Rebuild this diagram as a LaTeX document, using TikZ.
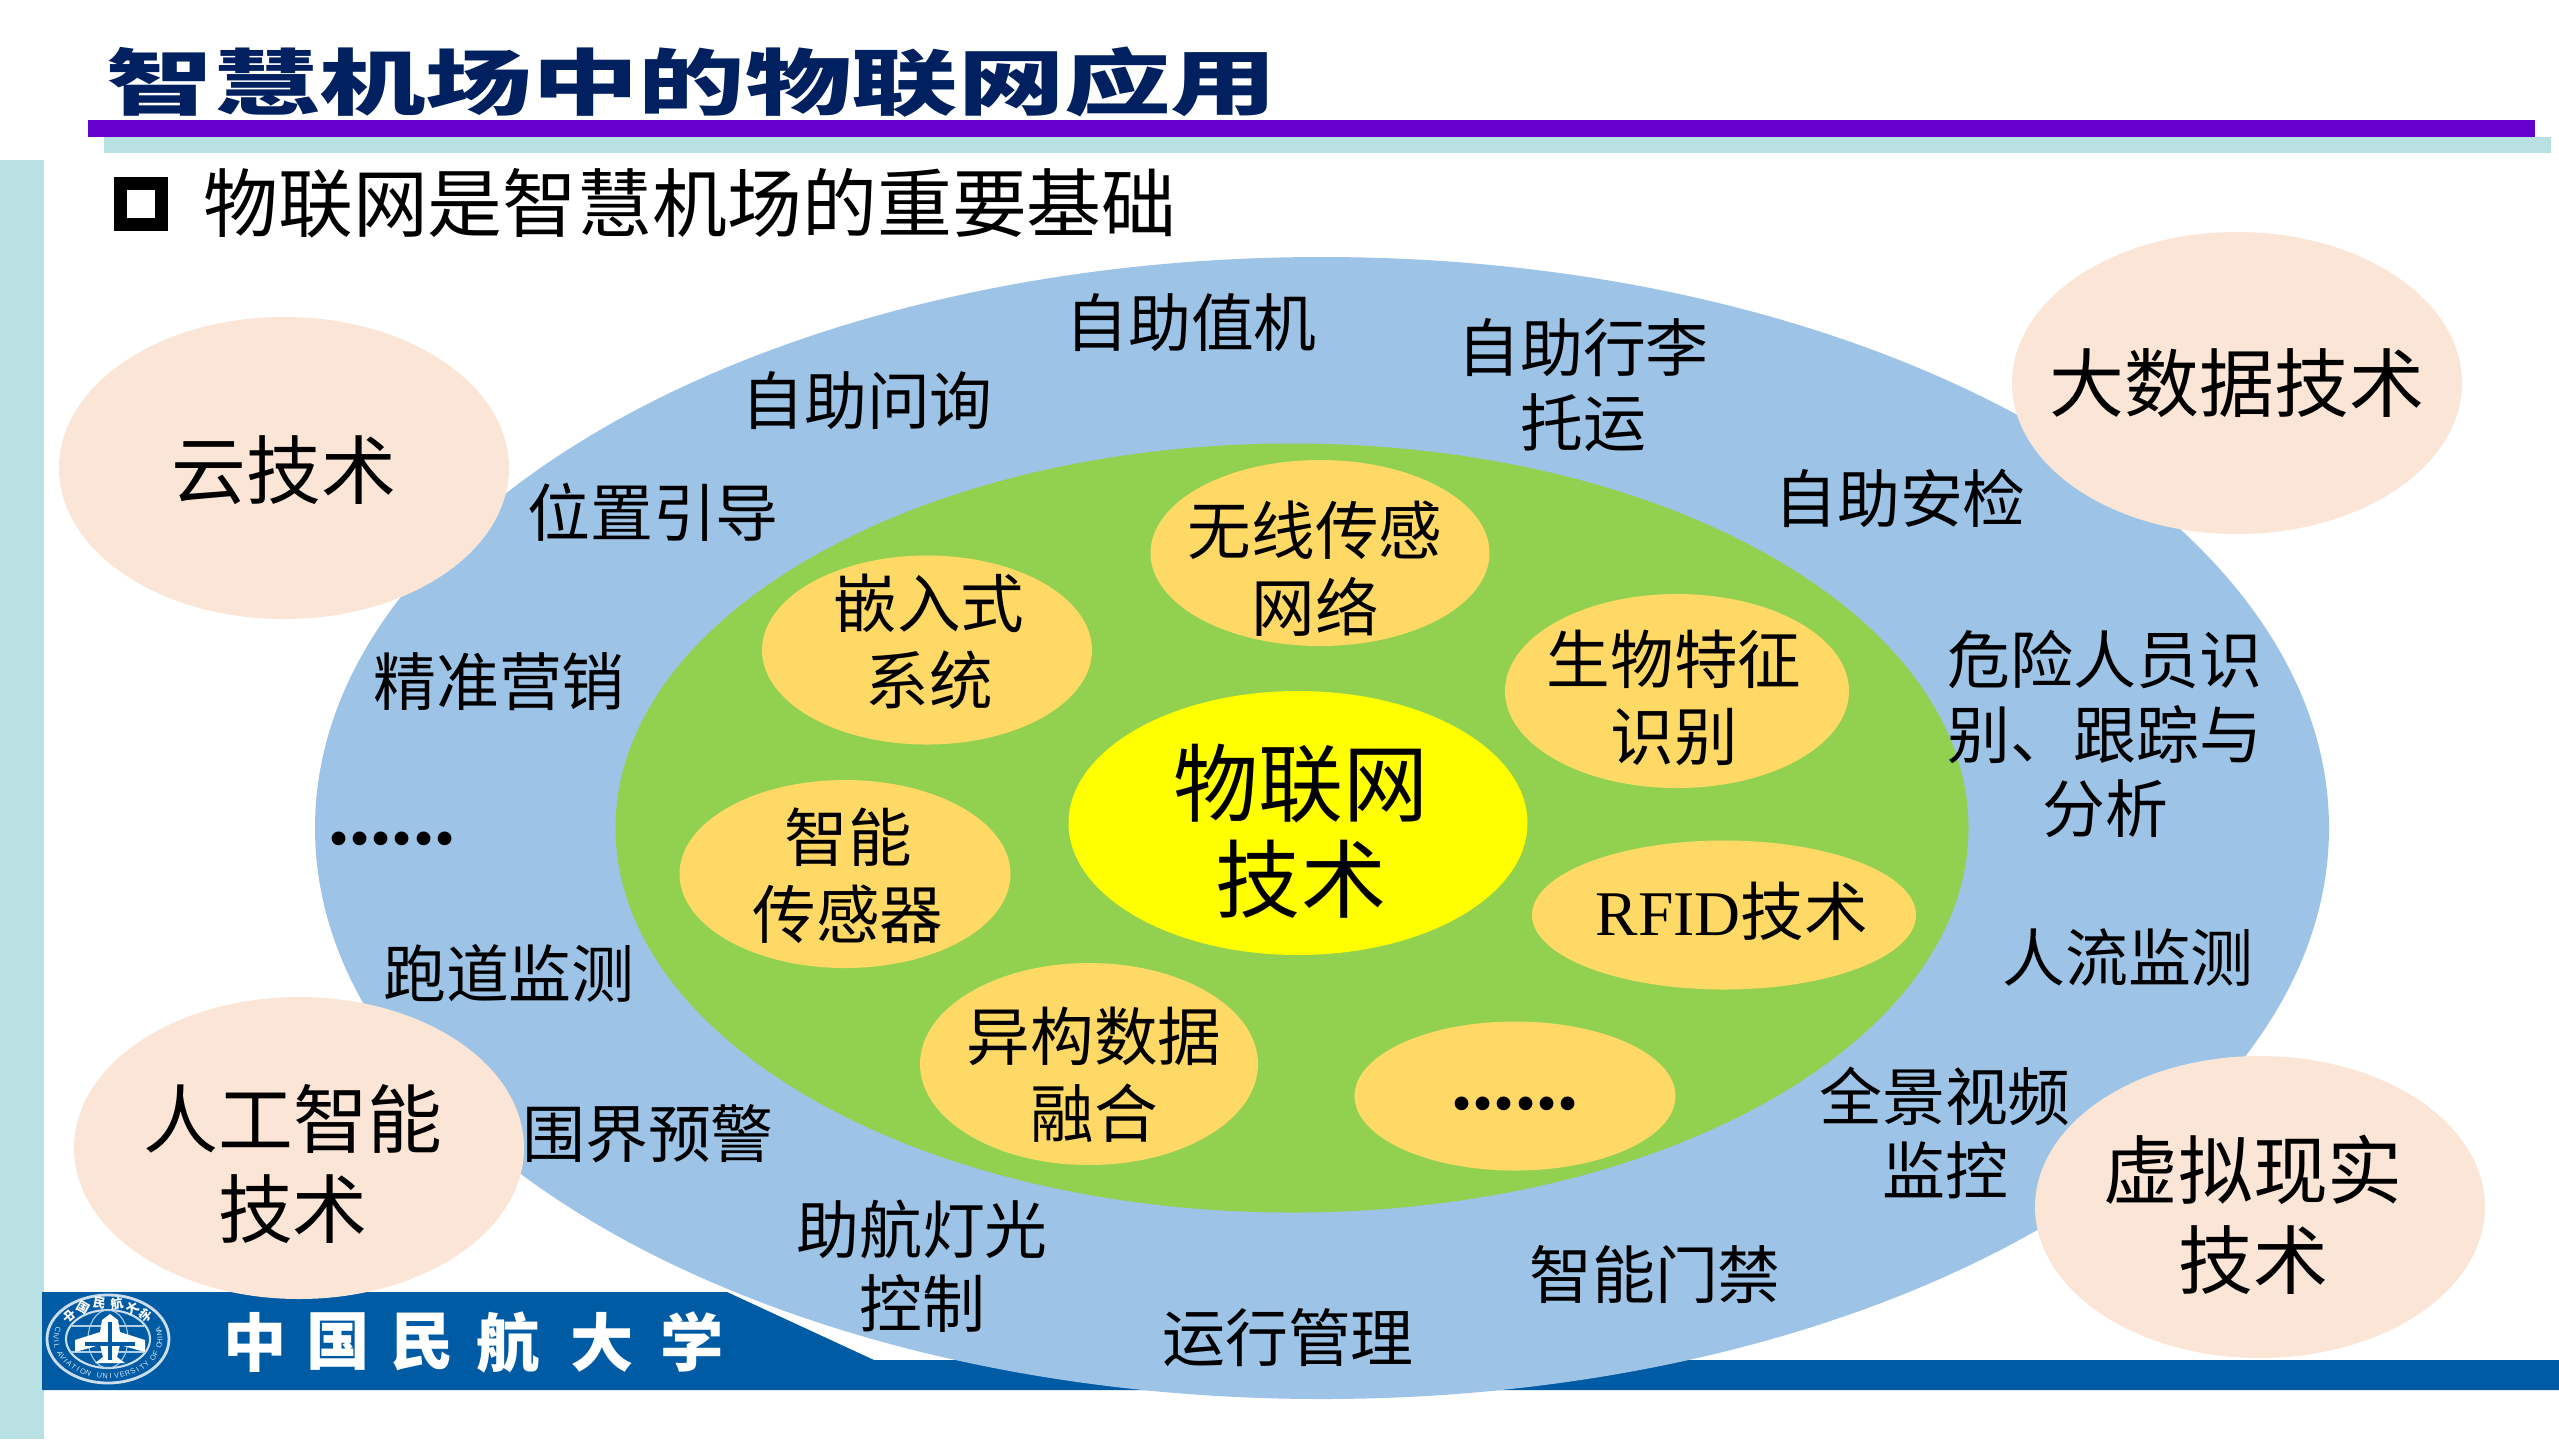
\documentclass[tikz,border=0pt]{standalone}
\usepackage{fontspec}
\setmainfont{Noto Sans CJK SC}
\newfontfamily\latinfont{Liberation Serif}
\newfontfamily\sansfont{Liberation Sans}
\usetikzlibrary{shapes.geometric}
\definecolor{bluefill}{HTML}{9DC3E6}
\definecolor{greenfill}{HTML}{92D050}
\definecolor{orangefill}{HTML}{FFD966}
\definecolor{peachfill}{HTML}{FBE5D6}
\definecolor{corefill}{HTML}{FFFF00}
\definecolor{barviolet}{HTML}{6600CC}
\definecolor{barteal}{HTML}{B9E0E3}
\definecolor{titlenavy}{HTML}{002060}
\definecolor{bannerblue}{HTML}{005BA5}
\tikzset{
  oval/.style n args={3}{ellipse,fill=#1,minimum width=#2cm,minimum height=#3cm,inner sep=0pt},
  smalloval/.style n args={2}{oval={orangefill}{#1}{#2}},
  techoval/.style={oval={peachfill}{4.5}{3.02}},
  smalltext/.style={align=center,inner sep=0pt,font=\fontsize{18.1}{22}\selectfont},
  techtext/.style={align=center,inner sep=0pt,font=\fontsize{21.3}{25.7}\selectfont},
  appname/.style={align=center,inner sep=0pt,font=\fontsize{17.9}{21.2}\selectfont},
  dots/.style={inner sep=0pt,font=\fontsize{24}{24}\bfseries\latinfont\selectfont},
  schoolchar/.style={white,inner sep=0pt,font=\fontsize{18}{20}\bfseries\selectfont},
  ringchar/.style={white!85!bannerblue,inner sep=0pt,font=\fontsize{2.1}{2.5}\sansfont\selectfont},
  sealchar/.style={white,inner sep=0pt,font=\fontsize{3.6}{4}\bfseries\selectfont},
}
\begin{document}
\begin{tikzpicture}[x=1cm,y=-1cm,line join=round]
\useasboundingbox (0,0) rectangle (25.59,14.39);
% side and title bars
\fill[barteal] (0,1.60) rectangle (0.44,14.39);
\fill[barteal] (1.04,1.37) rectangle (25.51,1.53);
\fill[barviolet] (0.88,1.20) rectangle (25.35,1.37);
\node[xscale=1.477,inner sep=0pt,titlenavy,font=\fontsize{20.5}{24}\bfseries\selectfont] (title) at (6.92,0.82) {智慧机场中的物联网应用};
\node[draw,line join=miter,line width=0.13cm,minimum size=0.41cm,inner sep=0pt] (bullet) at (1.41,2.04) {};
\node[inner sep=0pt,font=\fontsize{21.3}{24}\selectfont] (subtitle) at (6.90,2.03) {物联网是智慧机场的重要基础};
% banner
\fill[bannerblue] (0.42,12.92)--(7.27,12.92)--(8.74,13.60)--(25.59,13.60)--(25.59,13.90)--(0.42,13.90)--cycle;
\draw[white!80!bannerblue,line width=0.8pt] (1.08,13.39) ellipse (0.61 and 0.44);
\draw[white!80!bannerblue,line width=0.6pt] (1.08,13.39) ellipse (0.42 and 0.29);
\draw[white!70!bannerblue,line width=0.3pt] (1.08,13.39) ellipse (0.20 and 0.29);
\draw[white!70!bannerblue,line width=0.3pt] (0.72,13.26)--(1.44,13.26) (0.70,13.52)--(1.46,13.52);
\fill[white] (1.10,13.14)--(1.18,13.20)--(1.20,13.32)--(1.45,13.40)--(1.45,13.52)--(1.20,13.45)--(1.17,13.57)--(1.25,13.63)--(0.95,13.63)--(1.03,13.57)--(1.00,13.45)--(0.75,13.52)--(0.75,13.40)--(1.00,13.32)--(1.02,13.20)--cycle;
\draw[bannerblue,line width=1.2pt] (1.10,13.22)--(1.10,13.60) (0.85,13.44)--(1.35,13.44);
\foreach \ch [count=\i,evaluate=\i as \ang using 195-6.36*(\i-1)] in {C,I,V,I,L,{},A,V,I,A,T,I,O,N,{},U,N,I,V,E,R,S,I,T,Y,{},O,F,{},C,H,I,N,A}
  \node[ringchar,rotate=90-\ang] (ring\i) at ({1.08+0.52*cos(\ang)},{13.39+0.37*sin(\ang)}) {\ch};
\foreach \ch [count=\i,evaluate=\i as \ang using 220+20*(\i-1)] in {中,国,民,航,大,学}
  \node[sealchar,rotate=\ang-270] (seal\i) at ({1.08+0.50*cos(\ang)},{13.39+0.36*sin(\ang)}) {\ch};
\foreach \ch/\xpos in {中/2.55,国/3.38,民/4.22,航/5.08,大/6.02,学/6.92}
  \node[schoolchar] (char\xpos) at (\xpos,13.42) {\ch};
% ovals
\node[oval={bluefill}{20.14}{11.42}] (outer) at (13.22,8.28) {};
\node[oval={greenfill}{13.53}{7.69}] (inner) at (12.92,8.28) {};
\node[oval={corefill}{4.59}{2.64}] (iot) at (12.98,8.23) {};
\node[align=center,inner sep=0pt,font=\fontsize{24.2}{27.4}\selectfont] (iottext) at (13.01,8.31) {物联网\\技术};
\node[smalloval={3.39}{1.86}] (wsn) at (13.20,5.53) {};
\node[smalltext] (wsntext) at (13.15,5.69) {无线传感\\网络};
\node[smalloval={3.30}{1.89}] (embed) at (9.27,6.50) {};
\node[smalltext] (embedtext) at (9.29,6.42) {嵌入式\\系统};
\node[smalloval={3.44}{1.94}] (bio) at (16.77,6.91) {};
\node[smalltext] (biotext) at (16.74,6.98) {生物特征\\识别};
\node[smalloval={3.31}{1.88}] (sensor) at (8.45,8.74) {};
\node[smalltext] (sensortext) at (8.48,8.76) {智能\\传感器};
\node[smalloval={3.84}{1.49}] (rfid) at (17.24,9.15) {};
\node[smalltext] (rfidtext) at (17.32,9.11) {{\latinfont RFID}技术};
\node[smalloval={3.38}{2.02}] (hetero) at (10.89,10.64) {};
\node[smalltext] (heterotext) at (10.94,10.75) {异构数据\\融合};
\node[smalloval={3.21}{1.49}] (moreinner) at (15.15,10.96) {};
\node[dots] (moreinnertext) at (15.15,11.04) {......};
\node[techoval] (cloud) at (2.84,4.68) {};
\node[techtext] (cloudtext) at (2.84,4.70) {云技术};
\node[techoval] (bigdata) at (22.37,3.83) {};
\node[techtext] (bigdatatext) at (22.37,3.83) {大数据技术};
\node[techoval] (ai) at (2.99,11.48) {};
\node[techtext] (aitext) at (2.93,11.64) {人工智能\\技术};
\node[techoval] (vr) at (22.60,12.07) {};
\node[techtext] (vrtext) at (22.53,12.15) {虚拟现实\\技术};
% applications
\node[appname] (checkin) at (11.91,3.23) {自助值机};
\node[appname] (inquiry) at (8.67,4.01) {自助问询};
\node[appname] (baggage) at (15.83,3.85) {自助行李\\托运};
\node[appname] (guide) at (6.53,5.12) {位置引导};
\node[appname] (security) at (19.00,4.98) {自助安检};
\node[appname] (marketing) at (4.99,6.82) {精准营销};
\node[appname] (danger) at (21.05,7.34) {危险人员识\\别、跟踪与\\分析};
\node[dots] (moreouter) at (3.92,8.39) {......};
\node[appname] (runway) at (5.09,9.73) {跑道监测};
\node[appname] (crowd) at (21.28,9.58) {人流监测};
\node[appname] (fence) at (6.48,11.34) {围界预警};
\node[appname] (video) at (19.45,11.33) {全景视频\\监控};
\node[appname] (lights) at (9.22,12.66) {助航灯光\\控制};
\node[appname] (gate) at (16.55,12.75) {智能门禁};
\node[appname] (ops) at (12.88,13.38) {运行管理};
\end{tikzpicture}
\end{document}
